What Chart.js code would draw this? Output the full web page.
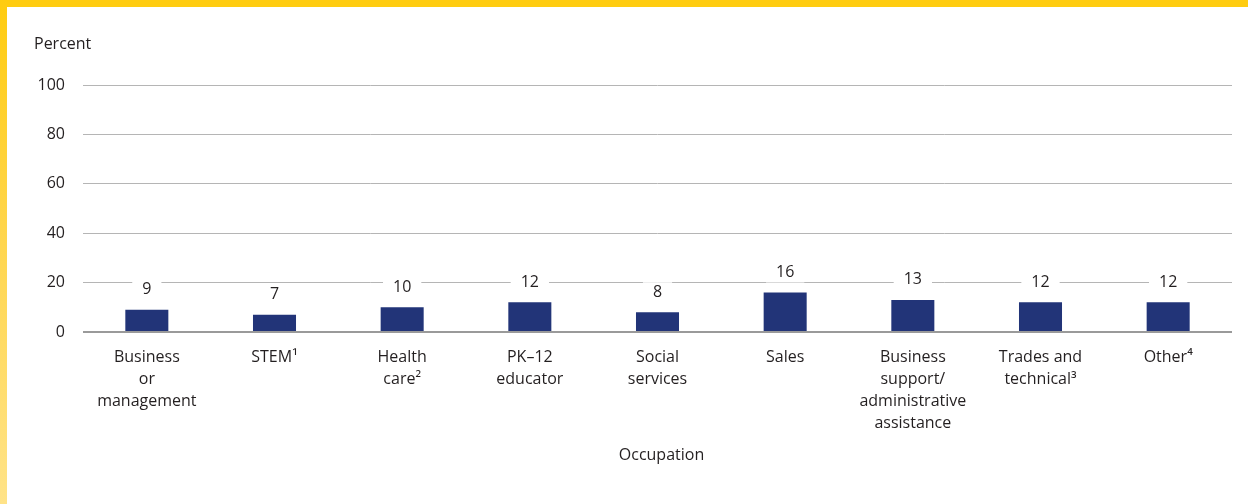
<!DOCTYPE html>
<html>
<head>
<meta charset="utf-8">
<script src="https://cdn.jsdelivr.net/npm/chart.js@4/dist/chart.umd.min.js"></script>
<style>
  html, body { margin: 0; padding: 0; background: #ffffff; }
  #page { position: relative; width: 1248px; height: 504px; overflow: hidden; background: #ffffff; }
  #topBar { position: absolute; left: 0; top: 0; width: 1248px; height: 7px; background: #ffcc10; }
  #leftBar { position: absolute; left: 0; top: 0; width: 7px; height: 504px;
             background: linear-gradient(to bottom, #ffcc10 0%, #ffd54a 45%, #ffe388 100%); }
  #chart { position: absolute; left: 7px; top: 7px; }
</style>
</head>
<body>
<div id="page">
  <div id="topBar"></div>
  <div id="leftBar"></div>
  <canvas id="chart" width="1241" height="497"></canvas>
</div>
<script>
// Occupation categories (multi-line tick labels)
const categories = [
  ['Business', 'or', 'management'],
  ['STEM\u00B9'],
  ['Health', 'care\u00B2'],
  ['PK\u201312', 'educator'],
  ['Social', 'services'],
  ['Sales'],
  ['Business', 'support/', 'administrative', 'assistance'],
  ['Trades and', 'technical\u00B3'],
  ['Other\u2074']
];

// Percent of respondents in each occupation
const percentValues = [9, 7, 10, 12, 8, 16, 13, 12, 12];

// Y-axis tick values
const yTicks = [0, 20, 40, 60, 80, 100];

const FONT_FAMILY = '"Open Sans", "Noto Sans", sans-serif';
const TEXT_COLOR = '#231f20';
const BAR_COLOR = '#223478';

// Value labels above bars, on a white backing that interrupts the gridlines
const valueLabels = {
  id: 'valueLabels',
  afterDatasetsDraw(chart) {
    const ctx = chart.ctx;
    const meta = chart.getDatasetMeta(0);
    ctx.save();
    ctx.font = '16px ' + FONT_FAMILY;
    ctx.textAlign = 'center';
    ctx.textBaseline = 'middle';
    meta.data.forEach((bar, i) => {
      const txt = String(chart.data.datasets[0].data[i]);
      const w = ctx.measureText(txt).width + 20;
      const cy = bar.y - 20;
      ctx.fillStyle = '#ffffff';
      ctx.fillRect(bar.x - w / 2, cy - 10, w, 20);
      ctx.fillStyle = TEXT_COLOR;
      ctx.fillText(txt, bar.x, cy);
    });
    ctx.restore();
  }
};

// Axis captions: "Percent" above the value axis, "Occupation" below the categories
const axisCaptions = {
  id: 'axisCaptions',
  afterDraw(chart) {
    const ctx = chart.ctx;
    const area = chart.chartArea;
    ctx.save();
    ctx.font = '16px ' + FONT_FAMILY;
    ctx.fillStyle = TEXT_COLOR;
    ctx.textBaseline = 'middle';
    ctx.textAlign = 'left';
    ctx.fillText('Percent', 27, 37.5);
    ctx.textAlign = 'center';
    ctx.fillText('Occupation', (area.left + area.right) / 2 + 4, 448);
    ctx.restore();
  }
};

new Chart(document.getElementById('chart'), {
  type: 'bar',
  data: {
    labels: categories,
    datasets: [{
      data: percentValues,
      backgroundColor: BAR_COLOR,
      borderWidth: 0,
      categoryPercentage: 1,
      barPercentage: 0.337
    }]
  },
  options: {
    responsive: false,
    animation: false,
    devicePixelRatio: 1,
    layout: { padding: { top: 78, right: 16, left: 0, bottom: 0 } },
    plugins: {
      legend: { display: false },
      tooltip: { enabled: false },
      title: { display: false }
    },
    scales: {
      x: {
        grid: { display: false, drawTicks: false },
        border: { display: false },
        ticks: {
          color: TEXT_COLOR,
          font: { family: FONT_FAMILY, size: 16, lineHeight: 1.375 },
          padding: 14,
          maxRotation: 0,
          autoSkip: false
        },
        afterFit(scale) { scale.height = 172; }
      },
      y: {
        min: 0,
        max: 100,
        afterBuildTicks(scale) { scale.ticks = yTicks.map(v => ({ value: v })); },
        grid: {
          drawTicks: false,
          color: c => (c.tick && c.tick.value === 0 ? '#9a9a9a' : '#b5b5b5'),
          lineWidth: c => (c.tick && c.tick.value === 0 ? 2 : 1)
        },
        border: { display: false },
        ticks: {
          color: TEXT_COLOR,
          font: { family: FONT_FAMILY, size: 16 },
          padding: 18
        },
        afterFit(scale) { scale.width = 76; }
      }
    }
  },
  plugins: [valueLabels, axisCaptions]
});
</script>
</body>
</html>
